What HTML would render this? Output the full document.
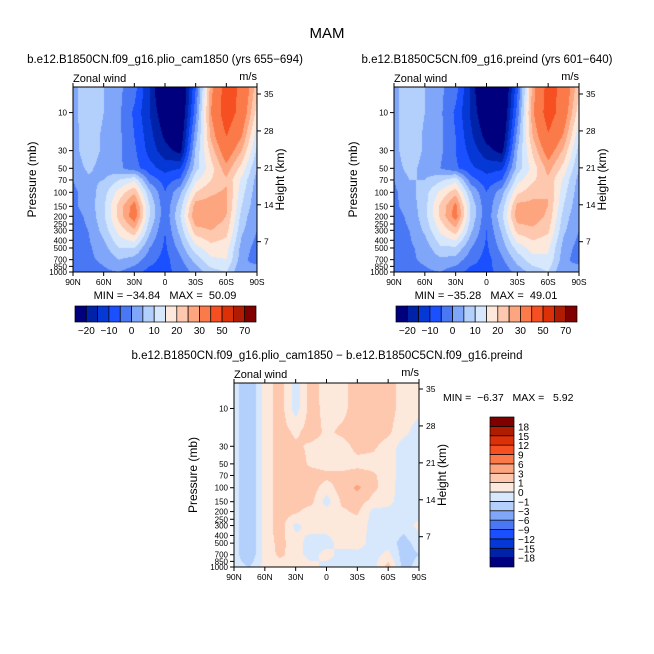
<!DOCTYPE html>
<html><head><meta charset="utf-8"><style>
body{margin:0;background:#fff;}
#wrap{position:relative;width:654px;height:654px;overflow:hidden;background:#fff;}
canvas{position:absolute;}
svg{position:absolute;left:0;top:0;}
text{font-family:"Liberation Sans",sans-serif;fill:#000;white-space:pre;}
</style></head><body>
<div id="wrap">
<canvas id="c1"></canvas>
<canvas id="c2"></canvas>
<canvas id="c3"></canvas>
<svg id="ov" width="654" height="654"></svg>
</div>
<script>
// ---- data ----
const lats=[90,75,60,45,30,15,0,-15,-30,-45,-60,-75,-90];
const plevs=[5,10,20,30,50,70,100,150,200,300,500,700,1000];
const levelsU=[-20,-15,-10,-5,0,5,10,15,20,25,30,40,50,60,70];
const labelsU=["-20","-10","0","10","20","30","50","70"];
const levelsD=[-18,-15,-12,-9,-6,-3,-1,0,1,3,6,9,12,15,18];
const labelsD=["18","15","12","9","6","3","1","0","-1","-3","-6","-9","-12","-15","-18"];
const latTicks=[90,60,30,0,-30,-60,-90];
const latTickLabels=["90N","60N","30N","0","30S","60S","90S"];
const pTicks=[10,30,50,70,100,150,200,250,300,400,500,700,850,1000];
const zTicks=[7,14,21,28,35];
const uLeft=[
[3,9,5,1,-3,-15,-30,-30,-5,28,45,38,22],
[3,9,5,1,-6,-15,-25,-28,-2,30,46,36,18],
[3,8,4,1,-5,-13,-21,-25,3,26,40,30,12],
[3,8,4,1,-4,-12,-18,-22,6,22,35,25,9],
[2,6,3,1,-3,-8,-12,-10,8,18,28,18,5],
[0,4,5,10,14,-2,-7,-4,14,20,24,14,3],
[-1,2,8,17,24,6,-5,4,20,24,26,12,2],
[-1,2,9,22,33,10,-4,8,28,28,26,10,1],
[-2,1,9,22,34,10,-4,10,30,29,25,8,0],
[-2,0,7,17,24,6,-5,7,23,25,22,6,0],
[-3,-1,3,10,10,0,-6,2,13,18,17,3,-2],
[-3,-1,1,5,3,-3,-7,-1,7,14,15,2,-3],
[-4,-2,-1,0,-3,-7,-6,-4,2,8,10,0,5]];
const uRight=[
[3,9,5,1,-3,-16,-31,-31,-6,27,44,37,21],
[3,9,5,1,-6,-16,-26,-29,-3,29,45,35,17],
[3,9,4,1,-5,-14,-22,-26,2,25,39,29,11],
[3,9,4,1,-5,-12,-18,-22,5,21,34,24,8],
[2,7,3,0,-4,-9,-12,-11,7,17,27,18,5],
[0,5,5,9,13,-3,-8,-5,13,19,24,14,3],
[-1,3,8,16,23,5,-5,3,19,23,25,12,2],
[-1,2,8,21,32,9,-4,7,27,27,25,10,1],
[-2,1,8,21,33,9,-4,9,28,28,24,8,0],
[-2,0,6,16,23,6,-5,6,22,24,21,6,0],
[-3,-1,2,9,9,0,-6,2,12,17,16,3,-2],
[-3,-1,1,4,3,-3,-7,-1,7,13,14,2,-3],
[-4,-2,-1,0,-3,-7,-6,-4,2,7,10,0,5]];
const uDiff=[
[-0.5,-2,0.5,1.5,-0.5,1.5,0.5,0.7,1.5,1.5,1.5,0.5,0.5],
[-0.5,-2,0.5,1.5,-0.5,1.5,0.6,0.7,1.5,1.5,1.5,0.5,0.3],
[-0.5,-2,0.5,1.5,0.8,1.5,0.8,1.2,1.5,1.5,1.2,0.3,-0.5],
[-0.5,-2,0.5,1.5,1.2,0.8,0.5,0.6,1.3,1.2,0.6,-0.5,-0.5],
[-0.5,-2,0.5,1.5,1.5,0.8,0.5,0.5,0.7,0.6,0.5,-0.5,-0.5],
[-0.5,-2,0.5,1.5,1.5,1.5,1.3,1.3,1.5,1.2,0.5,-0.5,-0.5],
[-0.5,-2,0.5,1.5,1.5,1.5,0.5,1.5,3.5,1.3,0.4,-0.5,-0.5],
[-0.5,-2,0.5,1.5,1.5,1.3,-0.5,1.2,1.5,0.6,0.3,-0.5,-0.5],
[-0.5,-2,0.5,1.5,1.2,0.5,0.5,0.8,1.2,-0.3,-0.3,-0.5,-0.5],
[-0.5,-2,0.5,1.5,-0.3,0.5,0.5,0.5,0.5,-0.3,-0.3,-0.5,0.3],
[-0.5,-2,0.5,1.3,0.5,-0.5,-0.5,0.5,0.5,-0.4,-0.4,-1.5,-0.5],
[-0.5,-2,0.5,1.2,0.5,-0.5,0.5,-0.5,-0.4,-0.4,0.3,-1.5,-1],
[-0.5,-1,0.3,0.5,0.5,0.5,-0.5,-0.5,-0.5,-0.5,1.5,-1.5,-0.5]];
const colors=["#00007f","#0022a8","#0638d6","#1a50ff","#4a78f5","#80a6fa","#b3cffc","#d7e8fd",
"#fde9dc","#fdc8ae","#fca57f","#fb7a49","#f64f22","#dc3008","#b01c02","#800000"];

// ---- helpers ----
const NS="http://www.w3.org/2000/svg";
const ov=document.getElementById('ov');
function el(tag,attrs,txt){const e=document.createElementNS(NS,tag);for(const k in attrs)e.setAttribute(k,attrs[k]);if(txt!==undefined)e.textContent=txt;ov.appendChild(e);return e;}
const LOGTOP=3-185/79.7;
function hex(c){return [parseInt(c.substr(1,2),16),parseInt(c.substr(3,2),16),parseInt(c.substr(5,2),16)];}
const rgb=colors.map(hex);
function colIdx(v,levels){let i=0;while(i<levels.length&&v>=levels[i])i++;return i;}
function sample(grid,lat,logp){
  let j=(90-lat)/15;j=Math.max(0,Math.min(11.9999,j));const j0=Math.floor(j),fj=j-j0;
  const lp=plevs.map(p=>Math.log10(p));
  let k=0;while(k<lp.length-2&&logp>lp[k+1])k++;
  let fk=(logp-lp[k])/(lp[k+1]-lp[k]);fk=Math.max(0,Math.min(1,fk));
  const a=grid[k][j0]*(1-fj)+grid[k][j0+1]*fj;
  const b=grid[k+1][j0]*(1-fj)+grid[k+1][j0+1]*fj;
  return a*(1-fk)+b*fk;
}
function drawField(id,x0,y0,W,H,grid,levels){
  const c=document.getElementById(id);c.width=W;c.height=H;c.style.left=x0+'px';c.style.top=y0+'px';
  const ctx=c.getContext('2d');const img=ctx.createImageData(W,H);
  for(let py=0;py<H;py++){const logp=LOGTOP+(3-LOGTOP)*(py+0.5)/H;
    for(let px=0;px<W;px++){const lat=90-180*(px+0.5)/W;
      const v=sample(grid,lat,logp);const col=rgb[colIdx(v,levels)];const o=(py*W+px)*4;
      img.data[o]=col[0];img.data[o+1]=col[1];img.data[o+2]=col[2];img.data[o+3]=255;}}
  ctx.putImageData(img,0,0);
}
function panel(x0,y0,W,H,name,title,tx){
  const xs=lat=>x0+(90-lat)/180*W;
  const ys=p=>y0+H*(Math.log10(p)-LOGTOP)/(3-LOGTOP);
  const yz=z=>y0+H-(30.3+(z-7)*5.275);
  el('rect',{x:x0,y:y0,width:W,height:H,fill:'none',stroke:'#000','stroke-width':1,});
  latTicks.forEach((l,i)=>{el('line',{x1:xs(l),x2:xs(l),y1:y0+H,y2:y0+H+4,stroke:'#000'});
    el('line',{x1:xs(l),x2:xs(l),y1:y0,y2:y0-4,stroke:'#000'});
    const t=el('text',{x:xs(l),y:y0+H+13,'font-size':8.5,'text-anchor':'middle'},latTickLabels[i]);
    });
  pTicks.forEach(p=>{el('line',{x1:x0-4,x2:x0,y1:ys(p),y2:ys(p),stroke:'#000'});
    const t=el('text',{x:x0-6,y:ys(p)+3,'font-size':8,'text-anchor':'end'},String(p));
    });
  zTicks.forEach(z=>{el('line',{x1:x0+W,x2:x0+W+4,y1:yz(z),y2:yz(z),stroke:'#000'});
    const t=el('text',{x:x0+W+7,y:yz(z)+3,'font-size':8.5},String(z));
    });
  el('text',{x:x0-37,y:y0+H/2,'font-size':12,'text-anchor':'middle',transform:`rotate(-90 ${x0-37} ${y0+H/2})`,},'Pressure (mb)');
  el('text',{x:x0+W+27,y:y0+H/2,'font-size':12,'text-anchor':'middle',transform:`rotate(-90 ${x0+W+27} ${y0+H/2})`,},'Height (km)');
  el('text',{x:x0,y:y0-5,'font-size':11,},'Zonal wind');
  el('text',{x:x0+W,y:y0-7,'font-size':11,'text-anchor':'end',},'m/s');
  el('text',{x:tx,y:y0-24,'font-size':11.5,'text-anchor':'middle',},title);
}
function hbar(x0,y0,W,H,name){
  const n=colors.length,w=W/n;
  colors.forEach((c,i)=>{const r=el('rect',{x:x0+i*w,y:y0,width:w,height:H,fill:c,stroke:'#000','stroke-width':0.7});
    });
  labelsU.forEach((l,i)=>{const t=el('text',{x:x0+(2*i+1)*w,y:y0+H+12,'font-size':10,'text-anchor':'middle'},l.replace('-','\u2212'));
    });
}
function vbar(x0,y0,W,H,name){
  const n=colors.length,h=H/n;
  colors.forEach((c,i)=>{const r=el('rect',{x:x0,y:y0+(n-1-i)*h,width:W,height:h,fill:c,stroke:'#000','stroke-width':0.7});
    });
  labelsD.forEach((l,i)=>{const t=el('text',{x:x0+W+4,y:y0+(i+1)*h+4,'font-size':10},l.replace('-','\u2212'));
    });
}
// ---- draw ----
drawField('c1',73,87,184,185,uLeft,levelsU);
drawField('c2',394,87,185,185,uRight,levelsU);
drawField('c3',234,383,185,184,uDiff,levelsD);
el('text',{x:327,y:38,'font-size':15,'text-anchor':'middle',},'MAM');
panel(73,87,184,185,'left-panel','b.e12.B1850CN.f09_g16.plio_cam1850 (yrs 655\u2212694)',165);
panel(394,87,185,185,'right-panel','b.e12.B1850C5CN.f09_g16.preind (yrs 601\u2212640)',487);
panel(234,383,185,184,'diff-panel','b.e12.B1850CN.f09_g16.plio_cam1850 \u2212 b.e12.B1850C5CN.f09_g16.preind',327);
el('text',{x:165,y:299,'font-size':11,'text-anchor':'middle',},'MIN = \u221234.84   MAX =  50.09');
el('text',{x:486,y:299,'font-size':11,'text-anchor':'middle',},'MIN = \u221235.28   MAX =  49.01');
el('text',{x:443,y:401,'font-size':10.5,},'MIN =  \u22126.37   MAX =   5.92');
hbar(75,306,181,16,'left-colorbar');
hbar(396,306,181,16,'right-colorbar');
vbar(490,417,24,150,'diff-colorbar');
</script>
</body></html>
